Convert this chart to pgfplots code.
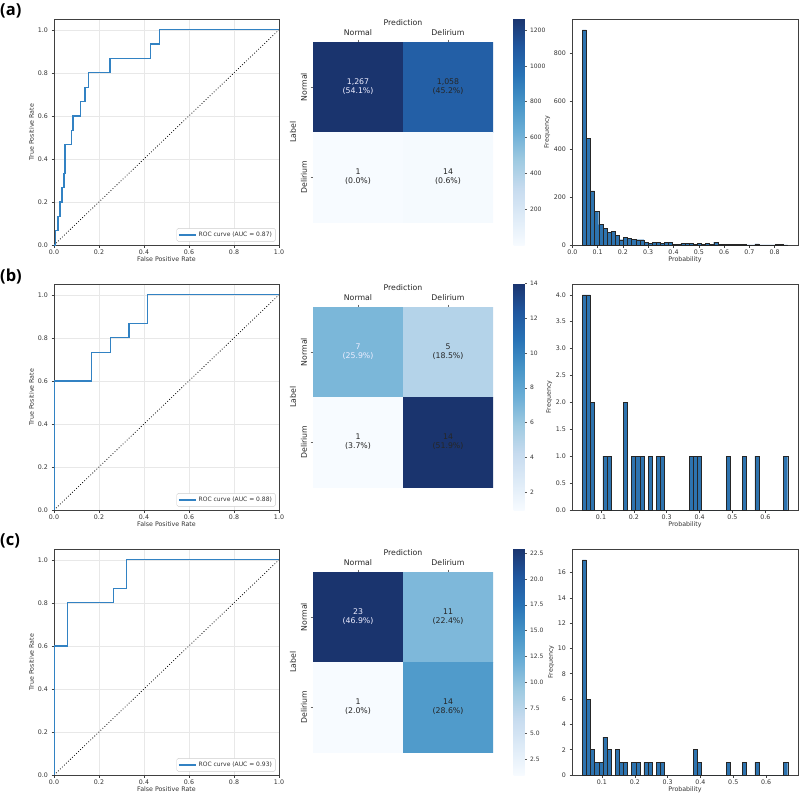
\documentclass[border=0pt]{standalone}
\usepackage{fontspec}
\setmainfont{DejaVu Sans}
\newfontfamily\labfont{Open Sans}
\usepackage{pgfplots}
\pgfplotsset{compat=1.18}
\definecolor{rocblue}{RGB}{50,130,195}
\definecolor{histblue}{RGB}{45,115,175}
\tikzset{
 ann/.style={font=\fontsize{7.8}{9.2}\selectfont, align=center, text=black!85},
 annw/.style={ann, text=white!93!blue},
 panel/.style={anchor=north west, inner sep=0pt, font=\labfont\bfseries\fontsize{16.5}{18}\selectfont}
}
\pgfplotsset{
 colormap={blues}{rgb255=(247,251,255) rgb255=(222,235,247) rgb255=(198,219,239) rgb255=(158,202,225) rgb255=(107,174,214) rgb255=(70,148,199) rgb255=(40,115,182) rgb255=(32,86,158) rgb255=(26,52,110)},
 every axis/.append style={/pgf/number format/assume math mode=true},
 base/.style={scale only axis, anchor=north west,
   tick label style={font=\fontsize{6.3}{7}\selectfont, text=black!80},
   label style={font=\fontsize{6.3}{7}\selectfont, text=black!80},
   tick align=outside, tick pos=left, major tick length=2.5pt,
   tick style={black!75, line width=0.5pt},
   axis line style={black!75, line width=0.6pt},
   xticklabel style={yshift=1pt}},
 roc/.style={base, width=225pt, height=226pt, xmin=0, xmax=1, ymin=0, ymax=1.05,
   xtick={0,0.2,0.4,0.6,0.8,1}, ytick={0,0.2,0.4,0.6,0.8,1},
   grid=major, grid style={black!9, line width=0.4pt},
   xlabel={False Positive Rate}, ylabel={True Positive Rate},
   xlabel style={yshift=4.5pt}, ylabel style={yshift=-3pt},
   ticklabel style={/pgf/number format/fixed, /pgf/number format/fixed zerofill, /pgf/number format/precision=1},
   legend style={at={(0.985,0.015)}, anchor=south east, font=\fontsize{6}{7}\selectfont, text=black!80, draw=black!20, rounded corners=1.5pt, inner sep=1.5pt},
   legend cell align=left},
 hist/.style={base, width=226pt, height=226pt, xlabel={Probability}, ylabel={Frequency},
   xlabel style={yshift=4.5pt}, ylabel style={yshift=-3pt},
   xticklabel style={/pgf/number format/fixed, /pgf/number format/fixed zerofill, /pgf/number format/precision=1}},
 cm/.style={scale only axis, anchor=north west, width=180pt, height=180pt,
   xmin=-0.5, xmax=1.5, ymin=-0.5, ymax=1.5, y dir=reverse,
   axis line style={draw=none}, colormap name=blues,
   xtick={0,1}, ytick={0,1}, xticklabels={Normal,Delirium}, yticklabels={Normal,Delirium},
   xtick pos=right, xticklabel pos=right, ytick pos=left, yticklabel pos=left,
   tick align=outside, major tick length=2.5pt, tick style={black!60, line width=0.5pt},
   tick label style={font=\fontsize{7.8}{9}\selectfont, text=black!85},
   label style={font=\fontsize{7.8}{9}\selectfont, text=black!85},
   yticklabel style={rotate=90, anchor=south},
   xlabel={Prediction}, ylabel={Label}, xlabel style={yshift=-3pt}, ylabel style={yshift=-2pt},
   colorbar},
 cb/.style={scale only axis, width=11pt, height=227pt, at={(parent axis.north east)}, anchor=north west, xshift=12pt, yshift=24pt,
   axis line style={draw=none}, ytick pos=right, yticklabel pos=right, tick align=outside, major tick length=2pt,
   tick style={black!65, line width=0.5pt},
   yticklabel style={font=\fontsize{6}{7}\selectfont, text=black!80, /pgf/number format/1000 sep={}}}
}
\begin{document}
\begin{tikzpicture}
\useasboundingbox (0pt,0pt) rectangle (800pt,-795pt);
% ---------------- (a) ----------------
\node[panel] at (0pt,-4pt) {(a)};
\begin{axis}[roc, at={(54pt,-19pt)}]
\addplot[black, dotted, line width=0.8pt, forget plot] coordinates {(0,0) (1,1)};
\addplot[rocblue, line width=1.3pt] coordinates {(0,0) (0.006,0) (0.006,0.0667) (0.018,0.0667) (0.018,0.1333) (0.027,0.1333) (0.027,0.2) (0.036,0.2) (0.036,0.2667) (0.044,0.2667) (0.044,0.3333) (0.049,0.3333) (0.049,0.4667) (0.079,0.4667) (0.079,0.5333) (0.085,0.5333) (0.085,0.6) (0.117,0.6) (0.117,0.6667) (0.138,0.6667) (0.138,0.7333) (0.153,0.7333) (0.153,0.8) (0.249,0.8) (0.249,0.8667) (0.428,0.8667) (0.428,0.9333) (0.468,0.9333) (0.468,1) (1,1)};
\addlegendentry{ROC curve (AUC = 0.87)}
\end{axis}
\begin{axis}[cm, at={(313pt,-42pt)}, point meta min=1, point meta max=1267,
  colorbar style={cb, ytick={200,400,600,800,1000,1200}}]
\addplot[matrix plot*, mesh/cols=2, point meta=explicit] coordinates {(0,0) [1267] (1,0) [1058] (0,1) [1] (1,1) [14]};
\node[annw] at (axis cs:0,0) {1,267\\(54.1\%)};
\node[ann] at (axis cs:1,0) {1,058\\(45.2\%)};
\node[ann] at (axis cs:0,1) {1\\(0.0\%)};
\node[ann] at (axis cs:1,1) {14\\(0.6\%)};
\end{axis}
\begin{axis}[hist, at={(572pt,-19pt)}, xmin=-0.0011, xmax=0.892, ymin=0, ymax=941,
  xtick={0,0.1,0.2,0.3,0.4,0.5,0.6,0.7,0.8}, ytick={0,200,400,600,800}]
\addplot[ybar interval, fill=histblue, draw=black!85, line width=0.4pt] coordinates {
(0.0396,896) (0.0558,445) (0.0721,225) (0.0883,139) (0.1045,85) (0.1208,70) (0.1370,53) (0.1532,57) (0.1694,40) (0.1857,22)
(0.2019,33) (0.2181,28) (0.2344,25) (0.2506,22) (0.2668,22) (0.2831,12) (0.2993,8) (0.3155,12) (0.3317,12) (0.3480,8)
(0.3642,12) (0.3804,12) (0.3967,4) (0.4129,4) (0.4291,8) (0.4454,6) (0.4616,6) (0.4778,4) (0.4940,6) (0.5103,3)
(0.5265,6) (0.5427,4) (0.5590,12) (0.5752,3) (0.5914,3) (0.6077,3) (0.6239,3) (0.6401,2) (0.6563,2) (0.6726,2)
(0.6888,1) (0.7050,1) (0.7213,5) (0.7375,1) (0.7537,1) (0.7700,1) (0.7862,1) (0.8024,3) (0.8186,2) (0.8349,1) (0.8511,0)};
\end{axis}
% ---------------- (b) ----------------
\node[panel] at (0pt,-269pt) {(b)};
\begin{axis}[roc, at={(54pt,-284pt)}]
\addplot[black, dotted, line width=0.8pt, forget plot] coordinates {(0,0) (1,1)};
\addplot[rocblue, line width=1.3pt] coordinates {(0,0) (0,0.6) (0.1667,0.6) (0.1667,0.7333) (0.25,0.7333) (0.25,0.8) (0.3333,0.8) (0.3333,0.8667) (0.4167,0.8667) (0.4167,1) (1,1)};
\addlegendentry{ROC curve (AUC = 0.88)}
\end{axis}
\begin{axis}[cm, at={(313pt,-307pt)}, point meta min=1, point meta max=14,
  colorbar style={cb, ytick={2,4,6,8,10,12,14}}]
\addplot[matrix plot*, mesh/cols=2, point meta=explicit] coordinates {(0,0) [7] (1,0) [5] (0,1) [1] (1,1) [14]};
\node[annw] at (axis cs:0,0) {7\\(25.9\%)};
\node[ann] at (axis cs:1,0) {5\\(18.5\%)};
\node[ann] at (axis cs:0,1) {1\\(3.7\%)};
\node[ann] at (axis cs:1,1) {14\\(51.9\%)};
\end{axis}
\begin{axis}[hist, at={(572pt,-284pt)}, xmin=0.0118, xmax=0.6993, ymin=0, ymax=4.2,
  xtick={0.1,0.2,0.3,0.4,0.5,0.6}, ytick={0,0.5,1,1.5,2,2.5,3,3.5,4},
  yticklabel style={/pgf/number format/fixed, /pgf/number format/fixed zerofill, /pgf/number format/precision=1}]
\addplot[ybar interval, fill=histblue, draw=black!85, line width=0.4pt] coordinates {
(0.0430,4) (0.0555,4) (0.0680,2) (0.0805,0) (0.0930,0) (0.1055,1) (0.1180,1) (0.1305,0) (0.1430,0) (0.1555,0)
(0.1680,2) (0.1805,0) (0.1930,1) (0.2055,1) (0.2180,1) (0.2305,0) (0.2430,1) (0.2555,0) (0.2680,1) (0.2805,1)
(0.2930,0) (0.3055,0) (0.3180,0) (0.3305,0) (0.3430,0) (0.3555,0) (0.3680,1) (0.3805,1) (0.3930,1) (0.4055,0)
(0.4180,0) (0.4305,0) (0.4430,0) (0.4555,0) (0.4680,0) (0.4805,1) (0.4930,0) (0.5055,0) (0.5180,0) (0.5305,1)
(0.5430,0) (0.5555,0) (0.5680,1) (0.5805,0) (0.5930,0) (0.6055,0) (0.6180,0) (0.6305,0) (0.6430,0) (0.6555,1) (0.6680,0)};
\end{axis}
% ---------------- (c) ----------------
\node[panel] at (0pt,-534pt) {(c)};
\begin{axis}[roc, at={(54pt,-549pt)}]
\addplot[black, dotted, line width=0.8pt, forget plot] coordinates {(0,0) (1,1)};
\addplot[rocblue, line width=1.3pt] coordinates {(0,0) (0,0.6) (0.0588,0.6) (0.0588,0.8) (0.2647,0.8) (0.2647,0.8667) (0.3235,0.8667) (0.3235,1) (1,1)};
\addlegendentry{ROC curve (AUC = 0.93)}
\end{axis}
\begin{axis}[cm, at={(313pt,-572pt)}, point meta min=1, point meta max=23,
  colorbar style={cb, ytick={2.5,5,7.5,10,12.5,15,17.5,20,22.5},
   yticklabel style={/pgf/number format/fixed, /pgf/number format/fixed zerofill, /pgf/number format/precision=1}}]
\addplot[matrix plot*, mesh/cols=2, point meta=explicit] coordinates {(0,0) [23] (1,0) [11] (0,1) [1] (1,1) [14]};
\node[annw] at (axis cs:0,0) {23\\(46.9\%)};
\node[ann] at (axis cs:1,0) {11\\(22.4\%)};
\node[ann] at (axis cs:0,1) {1\\(2.0\%)};
\node[ann] at (axis cs:1,1) {14\\(28.6\%)};
\end{axis}
\begin{axis}[hist, at={(572pt,-549pt)}, xmin=0.0087, xmax=0.6973, ymin=0, ymax=17.85,
  xtick={0.1,0.2,0.3,0.4,0.5,0.6}, ytick={0,2,4,6,8,10,12,14,16}]
\addplot[ybar interval, fill=histblue, draw=black!85, line width=0.4pt] coordinates {
(0.0400,17) (0.0525,6) (0.0650,2) (0.0776,1) (0.0901,1) (0.1026,3) (0.1151,2) (0.1276,0) (0.1402,2) (0.1527,1)
(0.1652,1) (0.1777,0) (0.1902,1) (0.2028,1) (0.2153,0) (0.2278,1) (0.2403,1) (0.2528,0) (0.2654,1) (0.2779,1)
(0.2904,0) (0.3029,0) (0.3154,0) (0.3280,0) (0.3405,0) (0.3530,0) (0.3655,0) (0.3780,2) (0.3906,1) (0.4031,0)
(0.4156,0) (0.4281,0) (0.4406,0) (0.4532,0) (0.4657,0) (0.4782,1) (0.4907,0) (0.5032,0) (0.5158,0) (0.5283,1)
(0.5408,0) (0.5533,0) (0.5658,1) (0.5784,0) (0.5909,0) (0.6034,0) (0.6159,0) (0.6284,0) (0.6410,0) (0.6535,1) (0.6660,0)};
\end{axis}
\end{tikzpicture}
\end{document}
